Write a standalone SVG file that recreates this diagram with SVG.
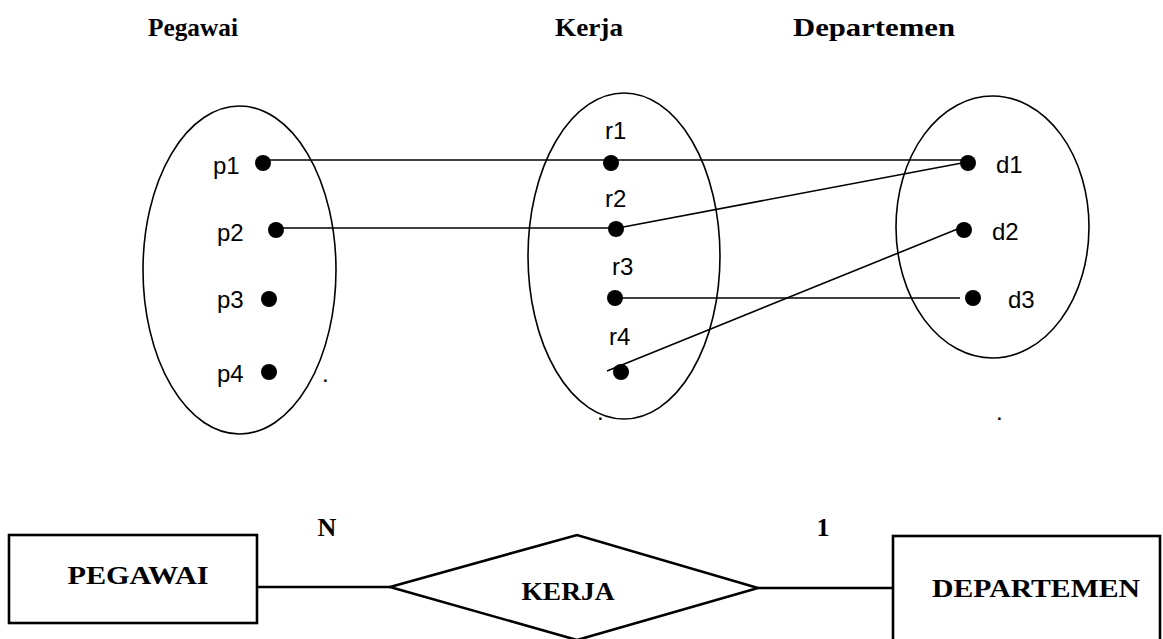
<svg xmlns="http://www.w3.org/2000/svg" width="1163" height="639" viewBox="0 0 1163 639">
<style>
.title{font-family:"Liberation Serif","Times New Roman",serif;font-weight:bold;font-size:26px;fill:#000;text-anchor:middle}
.lab{font-family:"Liberation Sans",Arial,sans-serif;font-size:24px;fill:#000}
.set{fill:none;stroke:#000;stroke-width:1.6}
.dot{fill:#000}
.conn line{stroke:#000;stroke-width:1.6}
.er{fill:#fff;stroke:#000;stroke-width:2.6}
.erline{stroke:#000;stroke-width:2.6}
.ert{font-family:"Liberation Serif","Times New Roman",serif;font-weight:bold;font-size:26px;fill:#000;text-anchor:middle}
</style>
<rect width="1163" height="639" fill="#fff"/>

<g id="titles">
<text class="title" x="193" y="36" textLength="90" lengthAdjust="spacingAndGlyphs">Pegawai</text>
<text class="title" x="589" y="36" textLength="68" lengthAdjust="spacingAndGlyphs">Kerja</text>
<text class="title" x="874" y="36" textLength="162" lengthAdjust="spacingAndGlyphs">Departemen</text>
</g>

<g id="set-pegawai">
<ellipse class="set" cx="239.5" cy="270" rx="96.5" ry="164"/>
</g>
<g id="set-kerja">
<ellipse class="set" cx="624" cy="256" rx="96" ry="163"/>
</g>
<g id="set-departemen">
<ellipse class="set" cx="992.5" cy="227" rx="96.5" ry="131"/>
</g>

<g id="connectors" class="conn">
<line x1="263" y1="160" x2="965" y2="160"/>
<line x1="276" y1="228" x2="616" y2="228"/>
<line x1="618" y1="228" x2="962" y2="163"/>
<line x1="615" y1="298" x2="960" y2="298"/>
<line x1="607" y1="371" x2="960" y2="228"/>
</g>

<g id="p1"><circle class="dot" cx="263" cy="163" r="8"/><text class="lab" x="213" y="174">p1</text></g>
<g id="p2"><circle class="dot" cx="276" cy="230" r="8"/><text class="lab" x="217" y="241">p2</text></g>
<g id="p3"><circle class="dot" cx="269" cy="299" r="8"/><text class="lab" x="217" y="308">p3</text></g>
<g id="p4"><circle class="dot" cx="269" cy="372" r="8"/><text class="lab" x="217" y="382">p4</text></g>

<g id="r1"><circle class="dot" cx="611" cy="163" r="8"/><text class="lab" x="605" y="139">r1</text></g>
<g id="r2"><circle class="dot" cx="616" cy="229" r="8"/><text class="lab" x="605" y="207">r2</text></g>
<g id="r3"><circle class="dot" cx="615" cy="298" r="8"/><text class="lab" x="612" y="275">r3</text></g>
<g id="r4"><circle class="dot" cx="621" cy="372" r="8"/><text class="lab" x="609" y="345">r4</text></g>

<g id="d1"><circle class="dot" cx="968" cy="163" r="8"/><text class="lab" x="996" y="173">d1</text></g>
<g id="d2"><circle class="dot" cx="964" cy="230" r="8"/><text class="lab" x="992" y="240">d2</text></g>
<g id="d3"><circle class="dot" cx="973" cy="298" r="8"/><text class="lab" x="1008" y="308">d3</text></g>

<g id="periods">
<text class="lab" x="322" y="382">.</text>
<text class="lab" x="597" y="420">.</text>
<text class="lab" x="996" y="420">.</text>
</g>

<g id="er-connectors">
<line class="erline" x1="257" y1="587" x2="390" y2="587"/>
<line class="erline" x1="758" y1="588" x2="893" y2="588"/>
</g>

<g id="PEGAWAI">
<rect class="er" x="9" y="535" width="248" height="88"/>
<text class="ert" x="138" y="584" textLength="141" lengthAdjust="spacingAndGlyphs">PEGAWAI</text>
</g>
<g id="KERJA">
<polygon class="er" points="390,587 577,535 758,588 577,640"/>
<text class="ert" x="568" y="600" textLength="93" lengthAdjust="spacingAndGlyphs">KERJA</text>
</g>
<g id="DEPARTEMEN">
<rect class="er" x="893" y="536" width="267" height="110"/>
<text class="ert" x="1036" y="597" textLength="208" lengthAdjust="spacingAndGlyphs">DEPARTEMEN</text>
</g>
<g id="cardinality">
<text class="ert" x="327" y="536">N</text>
<text class="ert" x="823" y="536">1</text>
</g>
</svg>
